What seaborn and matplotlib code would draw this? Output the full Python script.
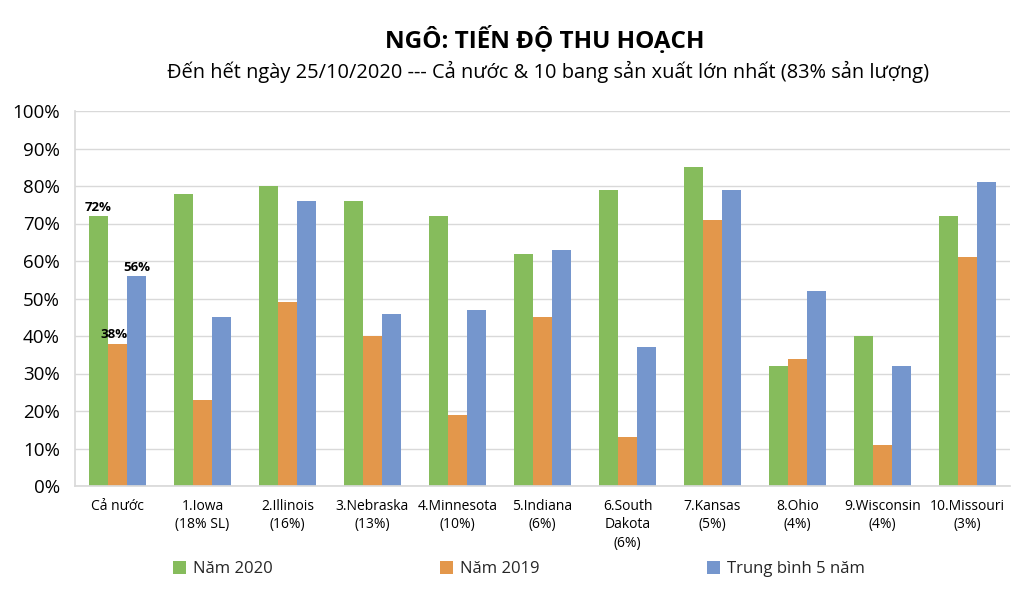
import matplotlib
matplotlib.use("Agg")
import matplotlib.pyplot as plt
import seaborn as sns
import pandas as pd
from matplotlib.patches import Patch
from matplotlib.ticker import FuncFormatter, MultipleLocator

categories = ["Cả nước", "1.Iowa\n(18% SL)", "2.Illinois\n(16%)", "3.Nebraska\n(13%)",
              "4.Minnesota\n(10%)", "5.Indiana\n(6%)", "6.South\nDakota\n(6%)", "7.Kansas\n(5%)",
              "8.Ohio\n(4%)", "9.Wisconsin\n(4%)", "10.Missouri\n(3%)"]
series_names = ["Năm 2020", "Năm 2019", "Trung bình 5 năm"]
nam_2020 = [72, 78, 80, 76, 72, 62, 79, 85, 32, 40, 72]
nam_2019 = [38, 23, 49, 40, 19, 45, 13, 71, 34, 11, 61]
tb_5_nam = [56, 45, 76, 46, 47, 63, 37, 79, 52, 32, 81]
colors = ["#86BC5C", "#E3974B", "#7596CD"]

sns.set_theme(style="white")
FONT = ["Open Sans", "DejaVu Sans"]
plt.rcParams["font.family"] = FONT

rows = []
for name, vals in zip(series_names, [nam_2020, nam_2019, tb_5_nam]):
    for c, v in zip(categories, vals):
        rows.append({"cat": c, "series": name, "value": v})
df = pd.DataFrame(rows)

fig = plt.figure(figsize=(10.24, 5.98), dpi=100)
ax = fig.add_axes([75 / 1024, 1 - 486 / 598, (1010 - 75) / 1024, (486 - 111) / 598])

sns.barplot(data=df, x="cat", y="value", hue="series", hue_order=series_names,
            order=categories, palette=colors, saturation=1, width=0.67, gap=0,
            legend=False, linewidth=0, ax=ax, errorbar=None)

ax.set_ylim(0, 100)
ax.set_xlim(-0.5, len(categories) - 0.5)
ax.yaxis.set_major_locator(MultipleLocator(10))
ax.yaxis.set_major_formatter(FuncFormatter(lambda v, p: f"{int(v)}%"))
ax.grid(axis="y", color="#D9D9D9", linewidth=1)
ax.set_axisbelow(True)
ax.set_xlabel("")
ax.set_ylabel("")
for s in ["top", "right"]:
    ax.spines[s].set_visible(False)
ax.spines["left"].set_color("#D9D9D9")
ax.spines["bottom"].set_color("#D9D9D9")
ax.tick_params(axis="both", length=0)
ax.tick_params(axis="y", labelsize=13.5, pad=11, colors="#000000")
ax.tick_params(axis="x", labelsize=10, pad=9, colors="#000000")
for lab in ax.get_xticklabels():
    lab.set_linespacing(1.36)

# data labels for the first group
conts = ax.containers
for cont, offx in zip(conts, [0, -0.04, 0]):
    bar = cont[0]
    ax.text(bar.get_x() + bar.get_width() / 2 + offx, bar.get_height() + 0.6,
            f"{int(bar.get_height())}%", ha="center", va="bottom",
            fontsize=9.5, fontweight="bold", color="#000000")

fig.text(545 / 1024, 1 - 40 / 598, "NGÔ: TIẾN ĐỘ THU HOẠCH", ha="center", va="center",
         fontsize=17.5, fontweight="bold", color="#000000")
fig.text(548 / 1024, 1 - 72 / 598,
         "Đến hết ngày 25/10/2020 --- Cả nước & 10 bang sản xuất lớn nhất (83% sản lượng)",
         ha="center", va="center", fontsize=14.4, color="#000000")

for name, col, xpos in zip(series_names, colors, [173, 440, 707]):
    fig.legend(handles=[Patch(facecolor=col, edgecolor="none")], labels=[name],
               loc="center left", bbox_to_anchor=(xpos / 1024, 1 - 569 / 598),
               frameon=False, fontsize=12, handlelength=0.8, handleheight=0.8,
               handletextpad=0.4, borderaxespad=0, borderpad=0)

fig.savefig("out.png", dpi=100, facecolor="white")
